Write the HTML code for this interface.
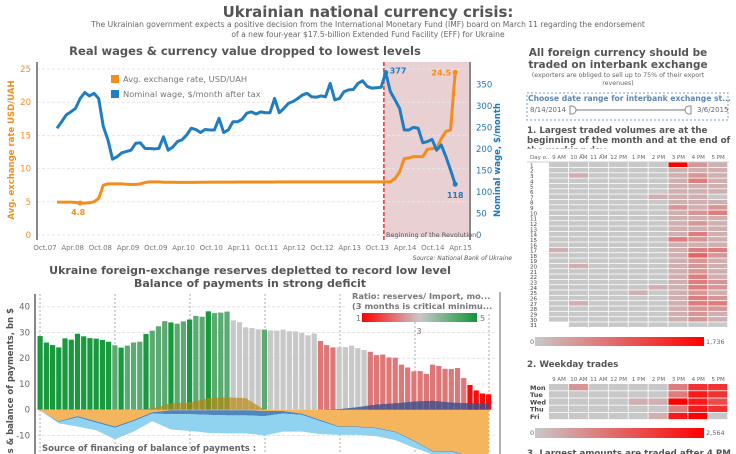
<!DOCTYPE html>
<html><head><meta charset="utf-8">
<style>
html,body{margin:0;padding:0;background:#fff;width:736px;height:454px;overflow:hidden;font-family:"DejaVu Sans","Liberation Sans",sans-serif;}
svg{display:block;overflow:hidden}
</style></head>
<body>
<svg id="s" width="736" height="454" viewBox="0 0 736 454" xmlns="http://www.w3.org/2000/svg" font-family="DejaVu Sans, Liberation Sans, sans-serif">
<defs><clipPath id="frame"><rect x="0" y="0" width="736" height="454"/></clipPath></defs>
<g clip-path="url(#frame)">
<text x="368" y="17" text-anchor="middle" font-size="15" font-weight="bold" fill="#555">Ukrainian national currency crisis:</text>
<text x="368" y="27" text-anchor="middle" font-size="7.6" fill="#666">The Ukrainian government expects a positive decision from the International Monetary Fund (IMF) board on March 11 regarding the endorsement</text>
<text x="368" y="37" text-anchor="middle" font-size="7.6" fill="#666">of a new four-year $17.5-billion Extended Fund Facility (EFF) for Ukraine</text>
<g id="top"></g>
<g id="bot"></g>
<g id="right"></g>
</g>
</svg>
<script>
// ---------- top chart data ----------
const topXTicks=["Oct.07","Apr.08","Oct.08","Apr.09","Oct.09","Apr.10","Oct.10","Apr.11","Oct.11","Apr.12","Oct.12","Apr.13","Oct.13","Apr.14","Oct.14","Apr.15"];
const leftTicks=[0,5,10,15,20,25];
const rightTicks=[0,50,100,150,200,250,300,350];
const wage=[248,263,279,286,294,317,331,323,329,317,252,221,176,182,191,194,197,213,214,201,201,200,201,228,197,204,217,221,232,248,245,238,245,244,244,271,238,244,263,263,269,283,286,281,286,284,284,317,284,294,306,310,317,325,329,321,320,323,321,352,314,317,333,337,338,352,358,345,341,342,343,377,333,314,294,244,244,250,248,214,217,222,197,209,182,151,118];
const fx=[4.95,4.95,4.95,4.95,4.9,4.8,4.8,4.85,5.0,5.5,7.5,7.7,7.7,7.7,7.7,7.65,7.6,7.6,7.7,7.9,8.0,8.0,8.0,7.95,7.95,7.95,7.93,7.92,7.92,7.92,7.93,7.94,7.95,7.96,7.96,7.96,7.97,7.97,7.97,7.98,7.98,7.98,7.98,7.99,7.99,7.99,7.99,7.99,8.0,8.0,8.0,8.0,8.0,8.0,8.0,8.0,8.0,8.0,8.0,8.0,8.0,8.0,8.0,8.0,8.0,8.0,8.0,8.0,8.0,8.0,8.0,8.0,8.0,8.5,9.5,11.5,11.6,11.8,11.8,11.8,12.9,13.0,13.0,14.5,15.6,15.8,24.5];
// ---------- bottom chart data ----------
const reserves=[28.6,26.1,25.1,24.2,27.7,27.2,29.5,28.5,27.8,27.6,27.1,26.4,25.0,24.1,24.9,26.1,26.4,29.4,30.7,32.4,34.4,33.9,33.4,34.3,35.0,36.4,36.1,38.2,37.5,37.7,38.1,34.7,34.0,32.0,31.7,31.2,31.1,30.8,30.7,31.1,30.5,30.4,29.8,28.9,29.6,26.7,25.1,24.2,24.3,24.3,24.9,23.9,23.2,22.5,21.2,21.4,20.3,20.2,17.5,16.4,14.9,15.0,13.9,17.5,17.0,15.9,15.8,16.2,12.3,9.6,7.5,6.3,6.0];
const ratio=[4.9,4.9,4.9,4.9,4.9,4.9,4.9,4.9,4.9,4.9,4.9,4.9,4.2,4.9,4.2,4.2,4.2,4.9,4.2,4.2,4.2,4.9,4.2,4.2,4.9,4.2,4.2,4.9,4.2,4.2,4.2,3,3,3,3,3,4.2,3,3,3,3,3,3,3,3,2.2,2.2,2.2,3,3,3,3,3,2.2,2.2,2.2,2.2,2.2,2.2,2.2,2.2,2.2,2.2,2.2,2.2,2.2,2.2,2.2,2.2,1.1,1.1,1.1,1.1];
const sampleIdx=[0,3,6,9,12,15,18,21,24,27,30,33,36,39,42,45,48,51,54,57,60,63,66,69,72];
const currentAcc=[0.3,4.5,2.5,4.5,6.5,4,1,0.2,0.2,0.2,0.2,0.2,0.5,0.5,1.5,4,6.5,6.5,7,8.5,12,16,16,18,20];
const imfFlow=[0,0.3,0.5,0.5,0.5,0.5,0.5,1.5,1.5,1.8,2,2,2,1,0.5,0.5,0.3,0.3,0.3,0.3,0.3,0.3,0.3,0.3,0.3];
const otherFlow=[0,0.5,3.5,3,4.5,4,3,6,6.5,7,7,7,7.5,7,6.5,5,3,3,3,3,2.5,1,2.5,1,0];
const goldPos=[0,0,0,0,0,0,0.5,2.5,2.8,4.5,4.8,4.5,0,0,0,0,0,0,0,0,0,0,0,0,0];
const navyPos=[0,0,0,0,0,0,0,0,0,0,0,0,0,0,0,0,0.2,1,2,2.5,3.2,3.5,2.8,2.5,2.5];
const botYTicks=[-10,0,10,20,30,40];
// ---------- heatmap data ----------
const hours=["9 AM","10 AM","11 AM","12 PM","1 PM","2 PM","3 PM","4 PM","5 PM"];
const dayVals=[
[1,1,1,1,1,1,9,3,2],[1,1,1,1,1,1,2,2,2],[1,2,1,1,1,1,2,3,2],[1,1,1,1,1,1,2,4,2],[1,1,1,1,1,1,2,2,2],
[1,1,1,1,1,1,2,2,2],[1,1,1,1,1,2,2,2,1],[1,1,1,1,1,1,2,2,2],[1,1,1,1,1,1,3,2,3],[1,1,1,1,1,1,2,3,4],
[1,1,1,1,1,1,2,2,2],[1,1,1,1,1,1,2,3,2],[1,1,1,1,1,1,2,2,2],[1,1,1,1,1,1,2,4,2],[1,1,1,1,1,1,4,3,2],
[1,1,1,1,1,1,2,2,2],[2,1,1,1,1,1,2,4,4],[1,1,1,1,1,1,2,5,3],[1,1,1,1,1,1,2,3,2],[1,2,1,1,1,1,2,3,2],
[1,1,1,1,1,1,2,3,2],[1,1,1,1,1,1,2,4,2],[1,1,1,1,1,1,2,4,3],[1,1,1,1,1,2,2,4,3],[1,1,1,1,2,1,2,3,2],
[1,1,1,1,1,1,2,4,3],[1,2,1,1,1,1,2,4,4],[1,1,1,1,1,1,2,3,3],[1,1,1,1,1,1,2,3,2],[1,1,1,1,1,1,2,3,2],
[null,1,1,1,1,1,1,1,1]];
const weekdays=["Mon","Tue","Wed","Thu","Fri"];
const weekVals=[[1,3,1,1,1,1,4,7,7],[1,1,0,1,1,1,4,8,7],[0,0,0,1,2,2,9,8,6],[0,1,0,1,1,1,4,8,7],[1,0,0,1,1,2,8,9,1]];

const NS="http://www.w3.org/2000/svg";
function mk(parent,tag,attrs,text){const e=document.createElementNS(NS,tag);for(const k in attrs)e.setAttribute(k,attrs[k]);if(text!==undefined)e.textContent=text;parent.appendChild(e);return e;}
const defs=mk(document.getElementById('s'),'defs',{});
const lgd=mk(defs,'linearGradient',{id:'rg'});
mk(lgd,'stop',{offset:'0','stop-color':'#ff0000'});mk(lgd,'stop',{offset:'0.5','stop-color':'#c8c8c8'});mk(lgd,'stop',{offset:'1','stop-color':'#109637'});
const lg2=mk(defs,'linearGradient',{id:'hg'});
mk(lg2,'stop',{offset:'0','stop-color':'#c8c8c8'});mk(lg2,'stop',{offset:'1','stop-color':'#ff0000'});

// ===== TOP CHART =====
(function(){
const g=document.getElementById('top');
const L=37,R=470,Y0=235,Y25=69;
const yl=v=>Y0-(Y0-Y25)*v/25;
const yr=v=>Y0-(Y0-84.3)*v/350;
const xt=i=>45+i*27.7;
const xm=i=>57+i*4.63;
let t=mk(g,'text',{x:245,y:55,'text-anchor':'middle','font-size':11.5,'font-weight':'bold',fill:'#555'},'Real wages & currency value dropped to lowest levels');

let bg=mk(g,'rect',{x:xm(70.6),y:62,width:R-xm(70.6),height:Y0-62+2,fill:'#e9d0d3'});

leftTicks.forEach(v=>{
 let l=mk(g,'line',{x1:L,x2:R,y1:yl(v),y2:yl(v),stroke:'#e6e6e6','stroke-dasharray':'3,2'});
 
 let tx=mk(g,'text',{x:31,y:yl(v)+3,'text-anchor':'end','font-size':8.5,fill:'#f28e1c'},v);
 
});
rightTicks.forEach(v=>{
 let tx=mk(g,'text',{x:476,y:yr(v)+3,'font-size':8.5,fill:'#1f77b4'},v);
 
});
topXTicks.forEach((s,i)=>{
 let tx=mk(g,'text',{x:xt(i),y:250,'text-anchor':'middle','font-size':7,fill:'#777'},s);
 
});
let a1=mk(g,'line',{x1:L,x2:L,y1:62,y2:240,stroke:'#888','stroke-width':2});

let a2=mk(g,'line',{x1:R,x2:R,y1:62,y2:240,stroke:'#888','stroke-width':2});

let rl=mk(g,'line',{x1:xm(70.6),x2:xm(70.6),y1:62,y2:240,stroke:'#e8313b','stroke-width':1.5,'stroke-dasharray':'4,2'});

let rt=mk(g,'text',{x:386,y:237,'font-size':6.5,fill:'#555'},'Beginning of the Revolution');

let ytl=mk(g,'text',{transform:'translate(14,150) rotate(-90)','text-anchor':'middle','font-size':8.5,'font-weight':'bold',fill:'#f28e1c'},'Avg. exchange rate USD/UAH');

let ytr=mk(g,'text',{transform:'translate(500,160) rotate(-90)','text-anchor':'middle','font-size':8.5,'font-weight':'bold',fill:'#1f77b4'},'Nominal wage, $/month');

let p1=mk(g,'polyline',{points:fx.map((v,i)=>xm(i)+','+yl(v)).join(' '),fill:'none',stroke:'#f28e1c','stroke-width':3,'stroke-linejoin':'round'});

let p2=mk(g,'polyline',{points:wage.map((v,i)=>xm(i)+','+yr(v)).join(' '),fill:'none',stroke:'#1f7ec2','stroke-width':3,'stroke-linejoin':'round'});

const last=wage.length-1;
let lb1=mk(g,'text',{x:xm(71)+4,y:yr(wage[71])+1,'font-size':8,'font-weight':'bold',fill:'#1f7ec2'},wage[71]);

let lb2=mk(g,'text',{x:xm(last),y:yr(wage[last])+14,'text-anchor':'middle','font-size':8,'font-weight':'bold',fill:'#1f7ec2'},wage[last]);

let lb3=mk(g,'text',{x:xm(last)-4,y:yl(fx[last])+3,'text-anchor':'end','font-size':8,'font-weight':'bold',fill:'#f28e1c'},fx[last]);

let lb4=mk(g,'text',{x:xm(5)-2,y:yl(fx[5])+12,'text-anchor':'middle','font-size':8,'font-weight':'bold',fill:'#f28e1c'},fx[5]);

[[xm(last),yr(wage[last]),'#1f7ec2'],[xm(71),yr(wage[71]),'#1f7ec2'],[xm(last),yl(fx[last]),'#f28e1c'],[xm(5),yl(fx[5]),'#f28e1c']].forEach(d=>{
 let c=mk(g,'circle',{cx:d[0],cy:d[1],r:2.5,fill:d[2]});});
let lg=mk(g,'g',{});
mk(lg,'rect',{x:111,y:75,width:8,height:8,fill:'#f28e1c'});
let le1=mk(lg,'text',{x:123,y:82,'font-size':8.3,fill:'#777'},'Avg. exchange rate, USD/UAH');

mk(lg,'rect',{x:111,y:90,width:8,height:8,fill:'#1f7ec2'});
let le2=mk(lg,'text',{x:123,y:97,'font-size':8.3,fill:'#777'},'Nominal wage, $/month after tax');

let src=mk(g,'text',{x:512,y:260,'text-anchor':'end','font-size':6,'font-style':'italic',fill:'#555'},'Source: National Bank of Ukraine');

})();

// ===== BOTTOM CHART =====
(function(){
const g=document.getElementById('bot');
const Y0=409.7,k=2.575,X0=37,BW=6.23;
const y=v=>Y0-v*k;
const xb=i=>X0+i*BW;
const xc=i=>X0+i*BW+BW/2;
let t1=mk(g,'text',{x:250,y:274,'text-anchor':'middle','font-size':11,'font-weight':'bold',fill:'#555'},'Ukraine foreign-exchange reserves depletted  to record low level');

let t2=mk(g,'text',{x:250,y:287,'text-anchor':'middle','font-size':11,'font-weight':'bold',fill:'#555'},'Balance of payments in strong deficit');

botYTicks.forEach(v=>{
 let l=mk(g,'line',{x1:X0,x2:495,y1:y(v),y2:y(v),stroke:'#e4e4e4','stroke-dasharray':'3,2'});
 
 let tx=mk(g,'text',{x:30,y:y(v)+3,'text-anchor':'end','font-size':8.5,fill:'#666'},v);
 
});
[40,115,190,265,340,415,489].forEach(x=>{
 let l=mk(g,'line',{x1:x,x2:x,y1:294,y2:454,stroke:'#999','stroke-dasharray':'2,2','stroke-width':0.8});
 
});
function rc(r){
 const red=[255,0,0],gr=[200,200,200],gn=[16,150,55];
 let a,b,t;if(r<=3){a=red;b=gr;t=(r-1)/2;}else{a=gr;b=gn;t=(r-3)/2;}
 t=Math.max(0,Math.min(1,t));
 return 'rgb('+a.map((c,i)=>Math.round(c+(b[i]-c)*t)).join(',')+')';}
reserves.forEach((v,i)=>{
 let r=mk(g,'rect',{x:xb(i)+0.5,y:y(v),width:BW-1,height:v*k,fill:rc(ratio[i])});
 
});
function area(top,bot,fill,name,op){
 let pts=sampleIdx.map((s,j)=>xc(s)+','+y(top[j]));
 let pb=sampleIdx.map((s,j)=>xc(s)+','+y(bot[j])).reverse();
 let p=mk(g,'polygon',{points:pts.concat(pb).join(' '),fill:fill,'fill-opacity':op||1});
 }
const zero=sampleIdx.map(()=>0);
const o=currentAcc.map(v=>-v);
const d=currentAcc.map((v,j)=>-(v+imfFlow[j]));
const lb=currentAcc.map((v,j)=>-(v+imfFlow[j]+otherFlow[j]));
area(zero,o,'#f5b55c','current-account-area');
area(o,d,'#4f86c0','imf-financing-area');
area(d,lb,'#8fd3f0','other-financing-area');
area(goldPos,zero,'#b8860b','gold-positive-area',0.65);
area(navyPos,zero,'#3b4f8c','navy-positive-area',0.8);
let ax=mk(g,'line',{x1:35,x2:35,y1:294,y2:454,stroke:'#888','stroke-width':2});

let rax=mk(g,'line',{x1:500,x2:500,y1:292,y2:454,stroke:'#999','stroke-width':1.5});

let yt=mk(g,'text',{transform:'translate(13,400) rotate(-90)','text-anchor':'middle','font-size':8.5,'font-weight':'bold',fill:'#555'},'Reserves & balance of payments, bn $');

let sf=mk(g,'text',{x:42,y:451,'font-size':8.5,'font-weight':'bold',fill:'#666'},'Source of financing of balance of payments :');

let rg=mk(g,'g',{});
mk(rg,'rect',{x:347,y:290,width:148,height:22,fill:'#fff'});
mk(rg,'text',{x:352,y:299,'font-size':8.3,'font-weight':'bold',fill:'#777'},'Ratio: reserves/ Import, mo...');
mk(rg,'text',{x:352,y:309,'font-size':8.3,'font-weight':'bold',fill:'#777'},'(3 months is critical minimu...');
mk(rg,'rect',{x:362,y:313,width:115,height:9,fill:'url(#rg)'});
mk(rg,'text',{x:356,y:321,'font-size':8,fill:'#777'},'1');
mk(rg,'text',{x:480,y:321,'font-size':8,fill:'#777'},'5');
mk(rg,'text',{x:419,y:334,'text-anchor':'middle','font-size':8,fill:'#777'},'3');
})();

// ===== RIGHT PANEL =====
(function(){
const g=document.getElementById('right');
function txt(x,yy,s,attrs,name){const a=Object.assign({x:x,y:yy},attrs);let e=mk(g,'text',a,s);return e;}
txt(618,56,'All foreign currency should be',{'text-anchor':'middle','font-size':10.5,'font-weight':'bold',fill:'#555'},'panel-title-line-1');
txt(618,68,'traded on interbank exchange',{'text-anchor':'middle','font-size':10.5,'font-weight':'bold',fill:'#555'},'panel-title-line-2');
txt(618,77,'(exporters are obliged to sell up to 75% of their export',{'text-anchor':'middle','font-size':6.3,fill:'#666'},'panel-note-line-1');
txt(618,85,'revenues)',{'text-anchor':'middle','font-size':6.3,fill:'#666'},'panel-note-line-2');
let box=mk(g,'rect',{x:527,y:93,width:201,height:27,fill:'none',stroke:'#7a9cc0','stroke-dasharray':'2,2'});

txt(528,101,'Choose date range for interbank exchange st...',{'font-size':7.6,'font-weight':'bold',fill:'#5b87b5'},'filter-title');
txt(530,112,'8/14/2014',{'font-size':7,fill:'#667'},'range-start');
txt(697,112,'3/6/2015',{'font-size':7,fill:'#667'},'range-end');
let tr=mk(g,'line',{x1:570,x2:690,y1:110,y2:110,stroke:'#bbb','stroke-width':2});

let h1=mk(g,'path',{d:'M572 106 h-2 v8 h2 a4 4 0 0 0 0 -8z',fill:'#fff',stroke:'#888'});

let h2=mk(g,'path',{d:'M689 106 h2 v8 h-2 a4 4 0 0 1 0 -8z',fill:'#fff',stroke:'#888'});

txt(527,133,'1. Largest traded volumes are at the',{'font-size':8.7,'font-weight':'bold',fill:'#555'},'section-1-title-line-1');
txt(527,143,'beginning of the month and at the end of',{'font-size':8.7,'font-weight':'bold',fill:'#555'},'section-1-title-line-2');
txt(527,153,'the working day',{'font-size':8.7,'font-weight':'bold',fill:'#555'},'section-1-title-line-3');
let cov=mk(g,'rect',{x:526,y:148.5,width:205,height:6,fill:'#fff'});

function col(v){if(v===null)return '#fff';const t=Math.max(0,Math.min(1,(v-1)/8));const a=[200,200,200],b=[255,0,0];return 'rgb('+a.map((c,i)=>Math.round(c+(b[i]-c)*t)).join(',')+')';}
const CX=549,CW=19.9;
txt(530,159,'Day o..',{'font-size':5.5,fill:'#666'},'heatmap-row-header');
hours.forEach((h,i)=>txt(CX+CW*i+CW/2,159,h,{'text-anchor':'middle','font-size':5.5,fill:'#666'},'hour-column-label'));
mk(g,'line',{x1:527,x2:729,y1:162,y2:162,stroke:'#ccc'});
const RH=5.33,RY=162.5;
dayVals.forEach((row,r)=>{
 txt(530,RY+RH*r+4.8,r+1,{'font-size':5.6,fill:'#444'},'day-label');
 row.forEach((v,c)=>{let e=mk(g,'rect',{x:CX+CW*c,y:RY+RH*r,width:CW-0.8,height:RH-0.8,fill:col(v)});
 });
});
let lb=mk(g,'rect',{x:535,y:337,width:169,height:9,fill:'url(#hg)'});

txt(530,344,'0',{'font-size':6.5,fill:'#666'},'legend-1-min');
txt(706,344,'1,736',{'font-size':6.5,fill:'#666'},'legend-1-max');
txt(527,367,'2. Weekday trades',{'font-size':8.7,'font-weight':'bold',fill:'#555'},'section-2-title');
hours.forEach((h,i)=>txt(CX+CW*i+CW/2,381,h,{'text-anchor':'middle','font-size':5.5,fill:'#666'},'hour-column-label'));
const WY=384,WH=7.2;
weekVals.forEach((row,r)=>{
 txt(530,WY+WH*r+6,weekdays[r],{'font-size':6.5,'font-weight':'bold',fill:'#444'},'weekday-label');
 row.forEach((v,c)=>{let e=mk(g,'rect',{x:CX+CW*c,y:WY+WH*r,width:CW-0.8,height:WH-0.8,fill:col(v)});
 });
});
let lb2=mk(g,'rect',{x:535,y:428,width:169,height:10,fill:'url(#hg)'});

txt(530,435,'0',{'font-size':6.5,fill:'#666'},'legend-2-min');
txt(706,435,'2,564',{'font-size':6.5,fill:'#666'},'legend-2-max');
txt(527,456,'3. Largest amounts are traded after 4 PM',{'font-size':8.7,'font-weight':'bold',fill:'#555'},'section-3-title');
})();
</script>
</body></html>
